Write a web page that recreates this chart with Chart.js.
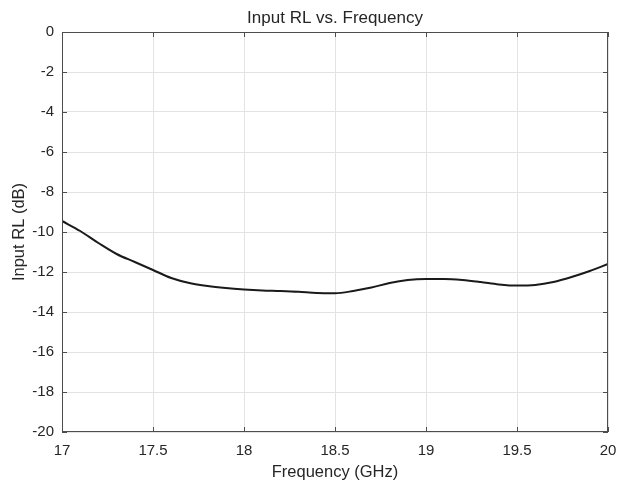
<!DOCTYPE html>
<html>
<head>
<meta charset="utf-8">
<script src="https://cdn.jsdelivr.net/npm/chart.js@4"></script>
<style>
  html, body { margin:0; padding:0; background:#fff; }
  #wrap { width:620px; height:482px; position:relative; }
</style>
</head>
<body>
<div id="wrap"><canvas id="rlChart"></canvas></div>
<script>
// frequency points (GHz) and input return loss (dB)
const freqGHz = [17.0,17.1,17.2,17.3,17.4,17.5,17.6,17.7,17.8,17.9,
                 18.0,18.1,18.2,18.3,18.4,18.5,18.6,18.7,18.8,18.9,
                 19.0,19.1,19.2,19.3,19.4,19.5,19.6,19.7,19.8,19.9,20.0];
const inputRL = [-9.45,-9.95,-10.55,-11.1,-11.5,-11.9,-12.3,-12.55,-12.7,-12.8,
                 -12.87,-12.92,-12.95,-12.99,-13.05,-13.06,-12.95,-12.78,-12.55,-12.4,
                 -12.35,-12.35,-12.4,-12.5,-12.62,-12.68,-12.65,-12.5,-12.25,-11.95,-11.6];
const xTicks = [17,17.5,18,18.5,19,19.5,20];
const yTicks = [0,-2,-4,-6,-8,-10,-12,-14,-16,-18,-20];

const axisColor = '#4d4d4d';
const textColor = '#262626';
const fontFam = '"Liberation Sans", Arial, sans-serif';

// box round the plot plus MATLAB style inward ticks
const boxPlugin = {
  id:'box',
  afterDraw(chart){
    const {ctx, chartArea:a, scales} = chart;
    ctx.save();
    ctx.strokeStyle = axisColor;
    ctx.lineWidth = 1;
    ctx.strokeRect(a.left+0.5, a.top+0.5, a.right-a.left-1, a.bottom-a.top-1);
    ctx.beginPath();
    xTicks.forEach(v=>{
      const px = Math.round(scales.x.getPixelForValue(v))+0.5;
      ctx.moveTo(px,a.bottom); ctx.lineTo(px,a.bottom-5);
      ctx.moveTo(px,a.top); ctx.lineTo(px,a.top+5);
    });
    yTicks.forEach(v=>{
      const py = Math.round(scales.y.getPixelForValue(v))+0.5;
      ctx.moveTo(a.left,py); ctx.lineTo(a.left+5,py);
      ctx.moveTo(a.right,py); ctx.lineTo(a.right-5,py);
    });
    ctx.stroke();
    ctx.restore();
  }
};

const ctx = document.getElementById('rlChart');

new Chart(ctx, {
  type:'line',
  data:{
    datasets:[{
      label:'Input RL',
      data: freqGHz.map((f,i)=>({x:f, y:inputRL[i]})),
      borderColor:'#1a1a1a',
      borderWidth:2,
      pointRadius:0,
      tension:0.4,
      cubicInterpolationMode:'monotone',
      fill:false
    }]
  },
  options:{
    responsive:true,
    maintainAspectRatio:false,
    animation:false,
    layout:{ padding:{ left:0, right:12, top:0, bottom:0 } },
    plugins:{
      legend:{display:false},
      tooltip:{enabled:false},
      title:{
        display:true,
        text:'Input RL vs. Frequency',
        color:textColor,
        fullSize:false,
        font:{family:fontFam, size:17, weight:'normal'},
        padding:{top:8, bottom:3.6}
      }
    },
    scales:{
      x:{
        type:'linear',
        min:17, max:20,
        afterBuildTicks(s){ s.ticks = xTicks.map(v=>({value:v})); },
        afterFit(s){ s.height = 50; s.paddingLeft = 0; s.paddingRight = 0; },
        grid:{ color:'#e3e3e3', drawTicks:false },
        border:{ display:false },
        ticks:{
          color:textColor, padding:10,
          font:{family:fontFam, size:15},
          callback:v=>String(v)
        },
        title:{
          display:true, text:'Frequency (GHz)', color:textColor,
          font:{family:fontFam, size:16.5},
          padding:{top:2, bottom:0}
        }
      },
      y:{
        min:-20, max:0,
        afterBuildTicks(s){ s.ticks = yTicks.map(v=>({value:v})); },
        afterFit(s){ s.width = 62; s.paddingTop = 0; s.paddingBottom = 0; },
        grid:{ color:'#e3e3e3', drawTicks:false },
        border:{ display:false },
        ticks:{
          color:textColor, padding:8,
          font:{family:fontFam, size:15}
        },
        title:{
          display:true, text:'Input RL (dB)', color:textColor,
          font:{family:fontFam, size:16.5},
          padding:{top:10, bottom:4}
        }
      }
    }
  },
  plugins:[boxPlugin]
});
</script>
</body>
</html>
